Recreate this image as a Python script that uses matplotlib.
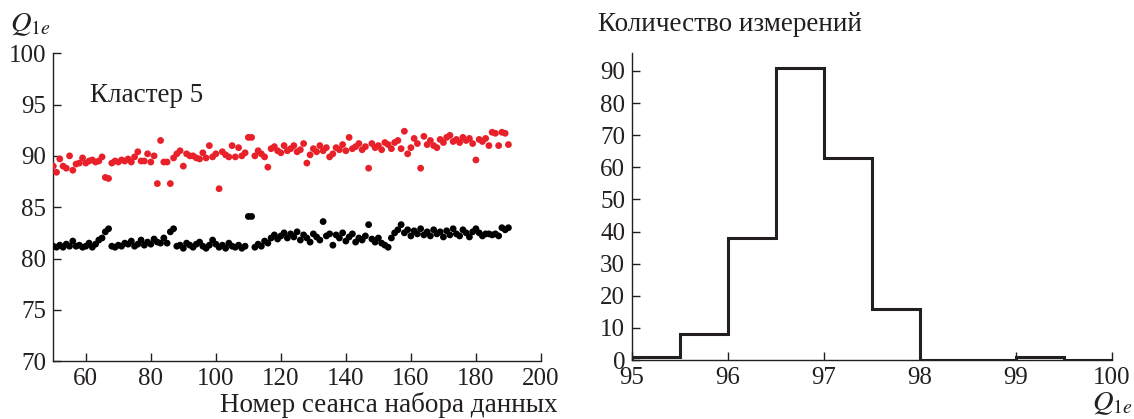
import matplotlib.pyplot as plt
import numpy as np

plt.rcParams['font.family'] = ['Liberation Serif', 'DejaVu Serif']
plt.rcParams['mathtext.fontset'] = 'stix'

# session numbers and Q1e values for cluster 5
sessions = list(range(50, 191))
q_red = [89.0, 88.4, 89.7, 89.0, 88.8, 90.0, 88.6, 89.2, 89.3, 89.8,
         89.3, 89.5, 89.6, 89.4, 89.5, 89.9, 87.9, 87.8, 89.3, 89.5,
         89.4, 89.6, 89.5, 89.7, 89.4, 89.9, 90.4, 89.5, 89.5, 90.2,
         89.4, 90.0, 87.3, 91.5, 89.4, 89.4, 87.3, 89.8, 90.2, 90.5,
         89.0, 90.2, 90.0, 90.0, 89.8, 89.7, 90.3, 89.8, 91.0, 89.9,
         90.2, 86.8, 90.4, 90.1, 89.9, 91.0, 89.9, 90.8, 90.0, 90.3,
         91.8, 91.8, 90.0, 90.5, 90.2, 89.9, 88.9, 90.7, 90.9, 90.5,
         90.3, 91.0, 90.5, 90.7, 91.0, 90.4, 90.6, 91.2, 89.3, 90.1,
         90.7, 90.4, 91.0, 90.5, 90.8, 89.9, 90.2, 90.8, 90.6, 91.1,
         90.5, 91.8, 90.7, 90.9, 91.2, 90.6, 90.9, 88.8, 91.2, 90.8,
         91.0, 90.6, 91.3, 91.1, 90.7, 91.3, 91.5, 90.7, 92.4, 90.2,
         90.8, 91.7, 91.2, 88.8, 91.9, 91.1, 91.5, 91.0, 90.8, 91.6,
         91.3, 91.8, 92.0, 91.4, 91.6, 91.3, 91.8, 91.5, 91.7, 91.2,
         89.6, 91.6, 91.4, 91.7, 91.0, 92.3, 92.2, 91.0, 92.3, 92.2,
         91.1]
q_black = [81.2, 81.1, 81.3, 81.1, 81.4, 81.2, 81.7, 81.2, 81.3, 81.1,
           81.2, 81.5, 81.1, 81.4, 81.8, 82.0, 82.6, 82.9, 81.2, 81.1,
           81.3, 81.2, 81.5, 81.4, 81.7, 81.2, 81.4, 81.8, 81.3, 81.6,
           81.4, 81.9, 81.6, 81.5, 82.0, 81.5, 82.6, 82.9, 81.2, 81.3,
           81.0, 81.5, 81.3, 81.1, 81.4, 81.6, 81.2, 81.0, 81.3, 81.8,
           81.4, 81.1, 81.3, 81.0, 81.5, 81.2, 81.1, 81.3, 81.0, 81.2,
           84.1, 84.1, 81.1, 81.4, 81.2, 81.7, 81.5, 82.0, 82.3, 81.9,
           82.2, 82.5, 82.0, 82.4, 82.1, 82.6, 81.8, 82.3, 82.0, 81.6,
           82.4, 82.1, 81.8, 83.6, 82.2, 82.4, 81.3, 82.3, 82.0, 82.5,
           81.7, 82.1, 82.4, 81.6, 82.0, 81.8, 82.2, 83.3, 81.9, 81.6,
           82.0, 81.5, 81.3, 81.1, 82.0, 82.5, 82.8, 83.3, 82.5, 82.8,
           82.2, 82.7, 82.4, 82.9, 82.3, 82.6, 82.2, 82.8, 82.4, 82.6,
           82.1, 82.7, 82.3, 82.9, 82.4, 82.2, 82.8, 82.5, 82.1, 82.6,
           82.9, 82.5, 82.2, 82.4, 82.4, 82.3, 82.4, 82.2, 83.0, 82.8,
           83.0]

# histogram of Q1e
bin_edges = [95, 95.5, 96, 96.5, 97, 97.5, 98, 98.5, 99, 99.5, 100]
counts = [1, 8, 38, 91, 63, 16, 0, 0, 1, 0]

fig = plt.figure(figsize=(11.34, 4.19), dpi=100)
fs = 18
lab = 19.5
ink = '#231f20'

# left: scatter
ax1 = fig.add_axes([0.047, 0.138, 0.430, 0.735])
ax1.scatter(sessions, q_red, s=24, color='#e8202a', edgecolors='none', zorder=3)
ax1.scatter(sessions, q_black, s=24, color='black', edgecolors='none', zorder=3)
ax1.set_xlim(50, 200)
ax1.set_ylim(70, 100)
ax1.set_xticks(range(60, 201, 20))
ax1.set_yticks(range(70, 101, 5))
ax1.spines['top'].set_visible(False)
ax1.spines['right'].set_visible(False)
ax1.text(61.2, 95.9, 'Кластер 5', fontsize=lab, va='center', color=ink)
ax1.text(-0.048, 1.05, '$Q_{1e}$', transform=ax1.transAxes, fontsize=lab + 1,
         color=ink, ha='center', va='bottom')
ax1.text(1.035, -0.10, 'Номер сеанса набора данных', transform=ax1.transAxes,
         fontsize=lab, ha='right', va='top', color=ink)

# right: histogram
ax2 = fig.add_axes([0.5573, 0.1408, 0.4233, 0.7327])
ax2.stairs(counts, bin_edges, color=ink, linewidth=2.2, baseline=0)
ax2.set_xlim(95, 100)
ax2.set_ylim(0, 95.6)
ax2.set_xticks(range(95, 101))
ax2.set_yticks(range(0, 91, 10))
ax2.spines['top'].set_visible(False)
ax2.spines['right'].set_visible(False)
ax2.text(-0.071, 1.134, 'Количество измерений', transform=ax2.transAxes,
         fontsize=lab, ha='left', va='top', color=ink)
ax2.text(1.0, -0.10, '$Q_{1e}$', transform=ax2.transAxes, fontsize=lab + 1,
         ha='center', va='top', color=ink)

for ax in (ax1, ax2):
    ax.tick_params(direction='in', length=6, width=1, labelsize=fs,
                   colors=ink, pad=5)
    for sp in ('left', 'bottom'):
        ax.spines[sp].set_linewidth(1)
        ax.spines[sp].set_color(ink)

fig.savefig('out.png', dpi=100)
